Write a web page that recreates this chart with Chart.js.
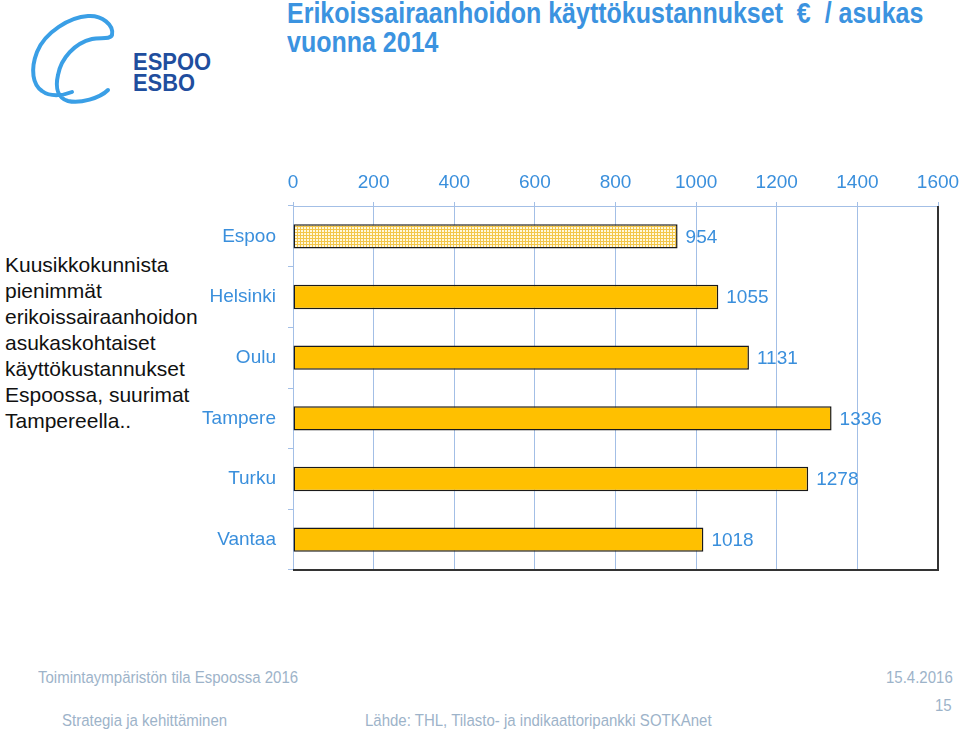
<!DOCTYPE html>
<html><head><meta charset="utf-8">
<script src="https://cdn.jsdelivr.net/npm/chart.js@4.4.1/dist/chart.umd.min.js"></script>
<style>
body{margin:0;width:960px;height:735px;background:#fff;position:relative;overflow:hidden;font-family:"Liberation Sans",Arial,sans-serif}
.t{position:absolute;white-space:pre}
.title{left:287px;font-weight:bold;font-size:25px;line-height:25px;color:#3b93e0;transform:scaleY(1.18);transform-origin:0 0}
.note{left:5px;top:252px;font-size:21px;line-height:26px;color:#111}
.foot{font-size:15px;line-height:18px;color:#9db3c9;transform:scaleY(1.1);transform-origin:0 0}
#wrap{position:absolute;left:180px;top:160px;width:780px;height:420px}
</style></head>
<body>
<svg style="position:absolute;left:0;top:0" width="230" height="120">
  <path fill="none" stroke="#3a9fe6" stroke-width="4" stroke-linecap="round"
    d="M 108 90 C 100 98, 80 104, 68 101 C 58 98, 55 88, 58 75 C 61 58, 75 43, 92 39 C 100 37, 110 40, 112 35 C 114 25, 102 15, 88 16 C 70 17, 45 32, 37 52 C 30 70, 33 85, 42 91 C 50 97, 62 96, 72 92"/>
  <text x="133" y="70" font-family="Liberation Sans, Arial" font-weight="bold" font-size="24" fill="#1f4e9e" textLength="78" lengthAdjust="spacingAndGlyphs">ESPOO</text>
  <text x="133" y="91" font-family="Liberation Sans, Arial" font-weight="bold" font-size="24" fill="#1f4e9e" textLength="62" lengthAdjust="spacingAndGlyphs">ESBO</text>
</svg>
<div class="t title" style="top:-2px">Erikoissairaanhoidon käyttökustannukset  €  / asukas</div>
<div class="t title" style="top:27px">vuonna 2014</div>
<div class="t note">Kuusikkokunnista
pienimmät
erikoissairaanhoidon
asukaskohtaiset
käyttökustannukset
Espoossa, suurimat
Tampereella..</div>
<div class="t foot" style="left:38px;top:668px">Toimintaympäristön tila Espoossa 2016</div>
<div class="t foot" style="left:886px;top:668px">15.4.2016</div>
<div class="t foot" style="left:935px;top:696px">15</div>
<div class="t foot" style="left:62px;top:711px">Strategia ja kehittäminen</div>
<div class="t foot" style="left:365px;top:711px">Lähde: THL, Tilasto- ja indikaattoripankki SOTKAnet</div>
<div id="wrap"><canvas id="c"></canvas></div>
<script>
const categories = ["Espoo", "Helsinki", "Oulu", "Tampere", "Turku", "Vantaa"];
const costs = [954, 1055, 1131, 1336, 1278, 1018];
const tickValues = [0, 200, 400, 600, 800, 1000, 1200, 1400, 1600];

const BLUE = "#3a8fdc";
const GRID = "#a3bfe6";

// hatched pattern for Espoo
const pc = document.createElement("canvas");
pc.width = 3; pc.height = 3;
const px = pc.getContext("2d");
px.fillStyle = "#fff8dc"; px.fillRect(0,0,3,3);
px.fillStyle = "#f3c64a"; px.fillRect(0,0,3,1); px.fillRect(0,0,1,3);
const pattern = px.createPattern(pc, "repeat");
const colors = categories.map((c,i) => i === 0 ? pattern : "#ffc000");

Chart.defaults.font.family = "'Liberation Sans', Arial, sans-serif";

const valueLabels = {
  id: "valueLabels",
  afterDatasetsDraw(chart) {
    const ctx = chart.ctx;
    const meta = chart.getDatasetMeta(0);
    ctx.save();
    ctx.font = "19px 'Liberation Sans', Arial";
    ctx.fillStyle = BLUE;
    ctx.textAlign = "left";
    ctx.textBaseline = "middle";
    meta.data.forEach((bar, i) => {
      ctx.fillText(String(costs[i]), bar.x + 8, bar.y + 1);
    });
    ctx.restore();
  }
};
const frame = {
  id: "frame",
  afterDraw(chart) {
    const a = chart.chartArea, ctx = chart.ctx;
    ctx.save();
    ctx.strokeStyle = "#333";
    ctx.lineWidth = 2;
    ctx.beginPath();
    ctx.moveTo(a.left, a.bottom);
    ctx.lineTo(a.right, a.bottom);
    ctx.lineTo(a.right, a.top);
    ctx.stroke();
    ctx.restore();
  }
};
const noPad = s => { s.paddingLeft = 0; s.paddingRight = 0; s.paddingTop = 0; s.paddingBottom = 0; };

new Chart(document.getElementById("c"), {
  type: "bar",
  data: {
    labels: categories,
    datasets: [{
      data: costs,
      backgroundColor: colors,
      borderColor: "#1a1a1a",
      borderWidth: 1.5,
      borderSkipped: false,
      barPercentage: 0.4,
      categoryPercentage: 1
    }]
  },
  options: {
    indexAxis: "y",
    responsive: true,
    maintainAspectRatio: false,
    animation: false,
    layout: { padding: { left: 0, right: 22, top: 0, bottom: 10 } },
    plugins: { legend: { display: false }, tooltip: { enabled: false } },
    scales: {
      x: {
        position: "top",
        min: 0, max: 1600,
        afterBuildTicks: s => { s.ticks = tickValues.map(v => ({ value: v })); },
        afterFit: s => { s.height = 46; noPad(s); },
        grid: { color: GRID, lineWidth: 1, tickLength: 4 },
        border: { color: GRID },
        ticks: { color: BLUE, font: { size: 19 }, padding: 8, maxRotation: 0,
                 callback: v => String(v) }
      },
      y: {
        afterFit: s => { s.width = 113; noPad(s); },
        grid: { drawOnChartArea: false, color: GRID, tickLength: 5 },
        border: { color: GRID },
        ticks: { color: BLUE, font: { size: 19 }, padding: 12 }
      }
    }
  },
  plugins: [valueLabels, frame]
});
</script>
</body></html>
